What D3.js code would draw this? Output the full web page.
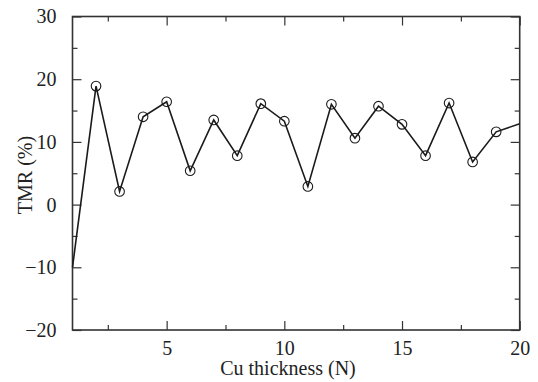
<!DOCTYPE html>
<html>
<head>
<meta charset="utf-8">
<script src="https://cdn.jsdelivr.net/npm/d3@7"></script>
<style>
  html, body { margin: 0; padding: 0; background: #fff; }
  svg { display: block; }
  text { font-family: "Liberation Serif", "Times New Roman", serif; fill: #222; }
</style>
</head>
<body>
<svg id="chart" width="538" height="382"></svg>
<script>
const thickness = [1, 2, 3, 4, 5, 6, 7, 8, 9, 10, 11, 12, 13, 14, 15, 16, 17, 18, 19, 20];
const tmr = [-10, 18.9, 2.1, 14.0, 16.4, 5.4, 13.5, 7.8, 16.1, 13.3, 2.9, 16.0, 10.6, 15.7, 12.8, 7.8, 16.2, 6.8, 11.6, 12.9];
const xTicks = [5, 10, 15, 20];
const xMinorTicks = [2.5, 7.5, 12.5, 17.5];
const yTicks = [-20, -10, 0, 10, 20, 30];
const yMinorTicks = [-15, -5, 5, 15, 25];
const xLabel = "Cu thickness (N)";
const yLabel = "TMR (%)";

const svg = d3.select("#chart");
const L = 72.5, R = 519.7, T = 16.5, B = 330;
const x = d3.scaleLinear().domain([1, 20]).range([L, R]);
const y = d3.scaleLinear().domain([-20, 30]).range([B, T]);
const axisColor = "#333";
const fs = 20;

// frame
svg.append("rect").attr("x", L).attr("y", T).attr("width", R - L).attr("height", B - T)
  .attr("fill", "none").attr("stroke", axisColor).attr("stroke-width", 1.6);

function styleAxis(g) {
  g.select(".domain").remove();
  g.selectAll("line").attr("stroke", axisColor).attr("stroke-width", 1.2);
  g.selectAll("text").style("font-size", fs + "px").style("font-family", "Liberation Serif, serif").attr("fill", "#222");
}

// bottom axis
svg.append("g").attr("transform", `translate(0,${B})`)
  .call(d3.axisBottom(x).tickValues(xTicks).tickSize(-9).tickPadding(-9 + 20).tickFormat(d3.format("d")))
  .call(styleAxis);
svg.append("g").attr("transform", `translate(0,${B})`)
  .call(d3.axisBottom(x).tickValues(xMinorTicks).tickSize(-5).tickFormat(""))
  .call(styleAxis);
// top axis ticks
svg.append("g").attr("transform", `translate(0,${T})`)
  .call(d3.axisTop(x).tickValues(xTicks).tickSize(-9).tickFormat(""))
  .call(styleAxis);
svg.append("g").attr("transform", `translate(0,${T})`)
  .call(d3.axisTop(x).tickValues(xMinorTicks).tickSize(-5).tickFormat(""))
  .call(styleAxis);
// left axis
svg.append("g").attr("transform", `translate(${L},0)`)
  .call(d3.axisLeft(y).tickValues(yTicks).tickSize(-9).tickPadding(9 + 7).tickFormat(d => d < 0 ? "\u2212" + Math.abs(d) : d))
  .call(styleAxis);
svg.append("g").attr("transform", `translate(${L},0)`)
  .call(d3.axisLeft(y).tickValues(yMinorTicks).tickSize(-5).tickFormat(""))
  .call(styleAxis);
// right axis ticks
svg.append("g").attr("transform", `translate(${R},0)`)
  .call(d3.axisRight(y).tickValues(yTicks).tickSize(-9).tickFormat(""))
  .call(styleAxis);
svg.append("g").attr("transform", `translate(${R},0)`)
  .call(d3.axisRight(y).tickValues(yMinorTicks).tickSize(-5).tickFormat(""))
  .call(styleAxis);

// data line
const pts = thickness.map((t, i) => [t, tmr[i]]);
svg.append("path").datum(pts)
  .attr("fill", "none").attr("stroke", "#1a1a1a").attr("stroke-width", 1.6)
  .attr("d", d3.line().x(d => x(d[0])).y(d => y(d[1])));

// markers (endpoints sit on frame, not drawn)
svg.append("g").selectAll("circle").data(pts.filter(d => d[0] > 1 && d[0] < 20)).join("circle")
  .attr("cx", d => x(d[0])).attr("cy", d => y(d[1])).attr("r", 4.8)
  .attr("fill", "none").attr("stroke", "#1a1a1a").attr("stroke-width", 1.1);

// axis titles
svg.append("text").attr("x", 288).attr("y", 375).attr("text-anchor", "middle")
  .style("font-size", fs + "px").text(xLabel);
svg.append("text").attr("transform", `translate(32,175) rotate(-90)`).attr("text-anchor", "middle")
  .style("font-size", fs + "px").text(yLabel);
</script>
</body>
</html>
